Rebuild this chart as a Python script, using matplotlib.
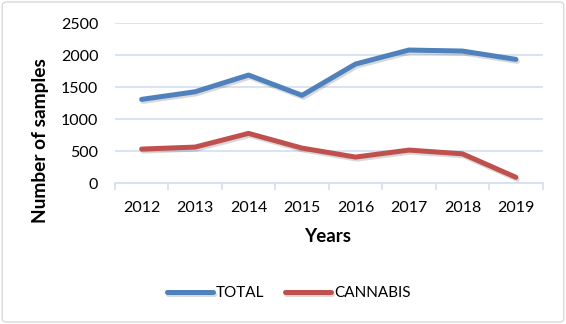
import matplotlib.pyplot as plt
import matplotlib.patheffects as pe
from matplotlib.patches import FancyBboxPatch

years = ["2012", "2013", "2014", "2015", "2016", "2017", "2018", "2019"]
total = [1312, 1431, 1692, 1375, 1864, 2083, 2067, 1937]
cannabis = [536, 567, 781, 551, 411, 520, 462, 95]

plt.rcParams['font.family'] = ['Lato', 'DejaVu Sans']

fig = plt.figure(figsize=(5.66, 3.24), dpi=100)
ax = fig.add_axes([0.203, 0.434, 0.7557, 0.494])

# outer chart border
border = FancyBboxPatch((0.004, 0.006), 0.992, 0.988, boxstyle="round,pad=0,rounding_size=0.01",
                        transform=fig.transFigure, facecolor='white', edgecolor='#D9D9D9',
                        linewidth=1.0, zorder=-10)
fig.patches.append(border)

shadow = [pe.SimpleLineShadow(offset=(1, -1.5), alpha=0.15, shadow_color='black'), pe.Normal()]
x = list(range(len(years)))
ax.plot(x, total, color='#4F81BD', linewidth=3.6, label='TOTAL',
        solid_capstyle='round', solid_joinstyle='round', path_effects=shadow)
ax.plot(x, cannabis, color='#C0504D', linewidth=3.6, label='CANNABIS',
        solid_capstyle='round', solid_joinstyle='round', path_effects=shadow)

ax.set_xlim(-0.5, len(years) - 0.5)
ax.set_ylim(0, 2500)
ax.set_yticks([0, 500, 1000, 1500, 2000, 2500])
ax.set_xticks(x)
ax.set_xticklabels(years)
ax.set_xticks([i - 0.5 for i in range(len(years) + 1)], minor=True)

ax.grid(axis='y', color='#D6E1F0', linewidth=1.3)
ax.set_axisbelow(True)
for s in ['top', 'right', 'left']:
    ax.spines[s].set_visible(False)
ax.spines['bottom'].set_color('#D6E1F0')
ax.spines['bottom'].set_linewidth(1.3)
ax.tick_params(axis='y', length=0, labelsize=11.5, pad=12, colors='#000000')
ax.tick_params(axis='x', which='major', length=0, labelsize=11.5, pad=13)
ax.tick_params(axis='x', which='minor', length=5, width=1.3, color='#D6E1F0')

# axis titles placed like the Excel original
fig.text(328 / 566, 1 - 236 / 324, 'Years', fontsize=13.5, fontweight='bold',
         ha='center', va='center')
fig.text(41 / 566, 1 - 141 / 324, 'Number of samples', fontsize=13.8, fontweight='bold',
         rotation=90, ha='center', va='center')

fig.legend(loc='center', bbox_to_anchor=(0.51, 0.096), ncol=2, frameon=False,
           fontsize=11, handlelength=3.0, handletextpad=0.2, columnspacing=1.35)

fig.savefig('out.png', dpi=100)
